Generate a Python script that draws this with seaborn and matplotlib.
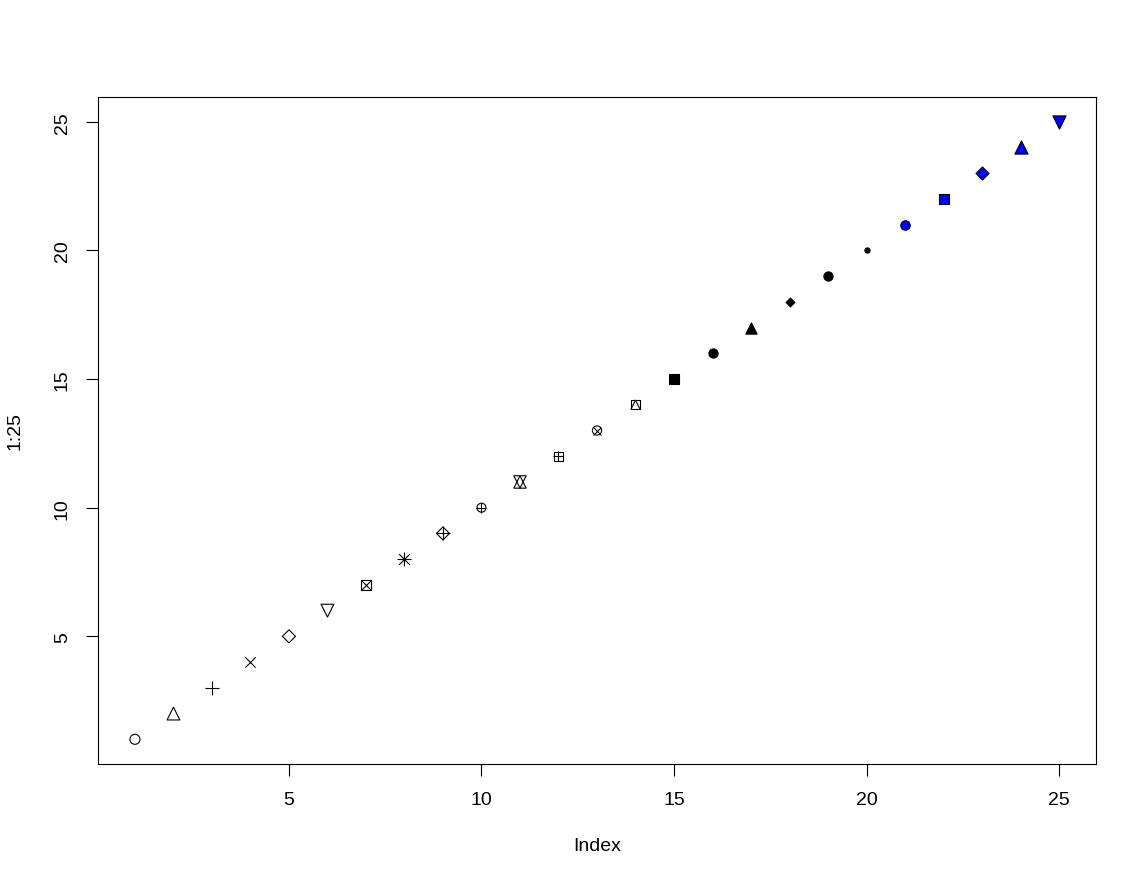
import numpy as np
import pandas as pd
import matplotlib
matplotlib.use("Agg")
import matplotlib.pyplot as plt
import seaborn as sns

# R pch symbols 1..25, plotted against their index
index = list(range(1, 26))
values = list(range(1, 26))
pch = list(range(1, 26))
fills = ["none"] * 14 + ["black"] * 6 + ["blue"] * 5

x_ticks = [5, 10, 15, 20, 25]
y_ticks = [5, 10, 15, 20, 25]

df = pd.DataFrame({"index": index, "value": values, "pch": pch, "fill": fills})

sq_in_tri = [(-1, -1), (0, 1), (1, -1)]

# each symbol is a stack of (marker, size, filled?)
layers = {
    1: [("o", 52, False)],
    2: [("^", 85, False)],
    3: [("+", 90, None)],
    4: [("x", 55, None)],
    5: [("D", 44, False)],
    6: [("v", 85, False)],
    7: [("s", 44, False), ("x", 44, None)],
    8: [("+", 90, None), ("x", 60, None)],
    9: [("D", 44, False), ("+", 88, None)],
    10: [("o", 42, False), ("+", 42, None)],
    11: [("^", 80, False), ("v", 80, False)],
    12: [("s", 44, False), ("+", 44, None)],
    13: [("o", 44, False), ("x", 32, None)],
    14: [("s", 44, False), (sq_in_tri, 44, False)],
    15: [("s", 44, True)],
    16: [("o", 44, True)],
    17: [("^", 66, True)],
    18: [("D", 20, True)],
    19: [("o", 44, True)],
    20: [("o", 14, True)],
    21: [("o", 46, True)],
    22: [("s", 44, True)],
    23: [("D", 44, True)],
    24: [("^", 90, True)],
    25: [("v", 90, True)],
}

sns.set_style("white")
plt.rcParams["font.family"] = ["Liberation Sans", "DejaVu Sans"]

fig = plt.figure(figsize=(11.47, 8.87), dpi=100)
ax = fig.add_axes([98 / 1147, 1 - 765 / 887, 998 / 1147, 667 / 887])

for _, row in df.iterrows():
    sub = df[df["pch"] == row["pch"]]
    for marker, size, filled in layers[row["pch"]]:
        if filled is None:
            sns.scatterplot(data=sub, x="index", y="value", marker=marker, s=size,
                            color="black", linewidth=0.8, ax=ax, zorder=3)
        elif filled:
            sns.scatterplot(data=sub, x="index", y="value", marker=marker, s=size,
                            color=row["fill"], edgecolor="black", linewidth=0.8,
                            ax=ax, zorder=3)
        else:
            sns.scatterplot(data=sub, x="index", y="value", marker=marker, s=size,
                            color="black", facecolor="none", edgecolor="black",
                            linewidth=0.8, ax=ax, zorder=3)

ax.set_xlim(0.04, 25.96)
ax.set_ylim(0.04, 25.96)
ax.set_xticks(x_ticks)
ax.set_yticks(y_ticks)
ax.set_yticklabels([str(t) for t in y_ticks], rotation=90, va="center")
ax.tick_params(axis="both", direction="out", length=8.6, width=0.8, pad=11,
               labelsize=14, colors="black", labelcolor="black", left=True, bottom=True)
for s in ax.spines.values():
    s.set_color("black")
    s.set_linewidth(0.8)
ax.set_xlabel("Index", fontsize=14, labelpad=21, color="black")
ax.set_ylabel("1:25", fontsize=14, labelpad=22, color="black")
ax.grid(False)

fig.savefig("out.png", dpi=100, facecolor="white")
